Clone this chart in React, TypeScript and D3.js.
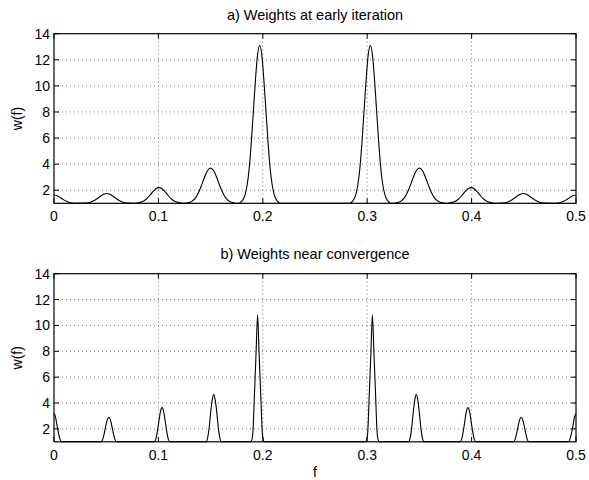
import React from 'react';
import * as d3 from 'd3';

const xTicks = [0, 0.1, 0.2, 0.3, 0.4, 0.5];
const yTicks = [2, 4, 6, 8, 10, 12, 14];
const xTickLabels = ['0', '0.1', '0.2', '0.3', '0.4', '0.5'];
const yTickLabels = ['2', '4', '6', '8', '10', '12', '14'];

const titleEarly = 'a) Weights at early iteration';
const titleConv = 'b) Weights near convergence';

// a) early iteration: frequency samples
const fEarly = [
  0, 0.003, 0.006, 0.009, 0.012, 0.015, 0.018, 0.021,
  0.0295, 0.0325, 0.0355, 0.0385, 0.0415, 0.0445, 0.0475, 0.0505, 0.0535, 0.0565, 0.0595, 0.0625, 0.0655, 0.0685, 0.0715,
  0.0755,
  0.0795, 0.0825, 0.0855, 0.0885, 0.0915, 0.0945, 0.0975, 0.1005, 0.1035, 0.1065, 0.1095, 0.1125, 0.1155, 0.1185, 0.1215,
  0.125, 0.129, 0.132, 0.135, 0.138, 0.141, 0.144, 0.147, 0.15, 0.153, 0.156, 0.159, 0.162, 0.165, 0.168, 0.171, 0.174,
  0.177, 0.179, 0.181, 0.183, 0.185, 0.187, 0.189, 0.191, 0.193, 0.195, 0.197, 0.199, 0.201, 0.203, 0.205, 0.207, 0.209, 0.211, 0.213, 0.215, 0.217,
  0.25,
  0.283, 0.285, 0.287, 0.289, 0.291, 0.293, 0.295, 0.297, 0.299, 0.301, 0.303, 0.305, 0.307, 0.309, 0.311, 0.313, 0.315, 0.317, 0.319, 0.321, 0.323,
  0.326, 0.329, 0.332, 0.335, 0.338, 0.341, 0.344, 0.347, 0.35, 0.353, 0.356, 0.359, 0.362, 0.365, 0.368, 0.371, 0.375,
  0.3785, 0.3815, 0.3845, 0.3875, 0.3905, 0.3935, 0.3965, 0.3995, 0.4025, 0.4055, 0.4085, 0.4115, 0.4145, 0.4175, 0.4205,
  0.4245,
  0.4285, 0.4315, 0.4345, 0.4375, 0.4405, 0.4435, 0.4465, 0.4495, 0.4525, 0.4555, 0.4585, 0.4615, 0.4645, 0.4675, 0.4705,
  0.479, 0.482, 0.485, 0.488, 0.491, 0.494, 0.497, 0.5,
];
const wEarly = [
  1.64, 1.58, 1.44, 1.28, 1.15, 1.06, 1.02, 1.0,
  1.01, 1.04, 1.1, 1.21, 1.37, 1.54, 1.69, 1.75, 1.69, 1.54, 1.37, 1.21, 1.1, 1.04, 1.01,
  1.0,
  1.02, 1.07, 1.16, 1.33, 1.58, 1.87, 2.11, 2.2, 2.11, 1.87, 1.58, 1.33, 1.16, 1.07, 1.02,
  1.0, 1.05, 1.15, 1.36, 1.75, 2.31, 2.96, 3.49, 3.7, 3.49, 2.96, 2.31, 1.75, 1.36, 1.15, 1.05, 1.0,
  1.0, 1.08, 1.27, 1.65, 2.4, 3.7, 5.7, 8.1, 10.5, 12.4, 13.1, 12.4, 10.5, 8.1, 5.7, 3.7, 2.4, 1.65, 1.27, 1.08, 1.0,
  1.0,
  1.0, 1.08, 1.27, 1.65, 2.4, 3.7, 5.7, 8.1, 10.5, 12.4, 13.1, 12.4, 10.5, 8.1, 5.7, 3.7, 2.4, 1.65, 1.27, 1.08, 1.0,
  1.0, 1.05, 1.15, 1.36, 1.75, 2.31, 2.96, 3.49, 3.7, 3.49, 2.96, 2.31, 1.75, 1.36, 1.15, 1.05, 1.0,
  1.02, 1.07, 1.16, 1.33, 1.58, 1.87, 2.11, 2.2, 2.11, 1.87, 1.58, 1.33, 1.16, 1.07, 1.02,
  1.0,
  1.01, 1.04, 1.1, 1.21, 1.37, 1.54, 1.69, 1.75, 1.69, 1.54, 1.37, 1.21, 1.1, 1.04, 1.01,
  1.0, 1.02, 1.06, 1.15, 1.28, 1.44, 1.58, 1.64,
];

// b) near convergence
const fConv = [
  0, 0.0015, 0.003, 0.0045, 0.006, 0.0075,
  0.045, 0.0465, 0.048, 0.0495, 0.051, 0.0525, 0.054, 0.0555, 0.057, 0.0585, 0.06,
  0.096, 0.0975, 0.099, 0.1005, 0.102, 0.1035, 0.105, 0.1065, 0.108, 0.1095, 0.111,
  0.1455, 0.147, 0.1485, 0.15, 0.1515, 0.153, 0.1545, 0.156, 0.1575, 0.159, 0.1605,
  0.1885, 0.1895, 0.1905, 0.192, 0.1935, 0.195, 0.1965, 0.198, 0.1995, 0.2005, 0.2015,
  0.25,
  0.2985, 0.2995, 0.3005, 0.302, 0.3035, 0.305, 0.3065, 0.308, 0.3095, 0.3105, 0.3115,
  0.3395, 0.341, 0.3425, 0.344, 0.3455, 0.347, 0.3485, 0.35, 0.3515, 0.353, 0.3545,
  0.389, 0.3905, 0.392, 0.3935, 0.395, 0.3965, 0.398, 0.3995, 0.401, 0.4025, 0.404,
  0.44, 0.4415, 0.443, 0.4445, 0.446, 0.4475, 0.449, 0.4505, 0.452, 0.4535, 0.455,
  0.4925, 0.494, 0.4955, 0.497, 0.4985, 0.5,
];
const wConv = [
  3.2, 2.9, 2.2, 1.6, 1.15, 1.0,
  1.0, 1.15, 1.6, 2.2, 2.7, 2.9, 2.7, 2.2, 1.6, 1.15, 1.0,
  1.0, 1.2, 1.8, 2.6, 3.35, 3.64, 3.35, 2.6, 1.8, 1.2, 1.0,
  1.0, 1.25, 2.0, 3.2, 4.2, 4.67, 4.2, 3.2, 2.0, 1.25, 1.0,
  1.0, 1.15, 1.7, 4.7, 7.75, 10.8, 7.75, 4.7, 1.7, 1.15, 1.0,
  1.0,
  1.0, 1.15, 1.7, 4.7, 7.75, 10.8, 7.75, 4.7, 1.7, 1.15, 1.0,
  1.0, 1.25, 2.0, 3.2, 4.2, 4.67, 4.2, 3.2, 2.0, 1.25, 1.0,
  1.0, 1.2, 1.8, 2.6, 3.35, 3.64, 3.35, 2.6, 1.8, 1.2, 1.0,
  1.0, 1.15, 1.6, 2.2, 2.7, 2.9, 2.7, 2.2, 1.6, 1.15, 1.0,
  1.0, 1.15, 1.6, 2.2, 2.9, 3.2,
];

const FONT = '"Liberation Sans", Arial, Helvetica, sans-serif';
const LEFT = 54;
const RIGHT = 576;

type PanelProps = {
  title: string;
  fs: number[];
  ws: number[];
  top: number;
  bottom: number;
  titleY: number;
  curveType: any;
};

function Panel({ title, fs, ws, top, bottom, titleY, curveType }: PanelProps) {
  const x = d3.scaleLinear().domain([0, 0.5]).range([LEFT, RIGHT]);
  const y = d3.scaleLinear().domain([1, 14]).range([bottom, top]);
  const pts = fs.map((f, i) => [f, ws[i]] as [number, number]);
  const line = d3
    .line<[number, number]>()
    .x((d) => x(d[0]))
    .y((d) => y(d[1]))
    .curve(curveType);
  const tl = 5;
  return (
    <g>
      <text x={(LEFT + RIGHT) / 2} y={titleY} textAnchor="middle" fontSize={14.5} fontFamily={FONT}>
        {title}
      </text>
      {/* grid */}
      {xTicks.slice(1, -1).map((t) => (
        <line key={'gx' + t} x1={x(t)} x2={x(t)} y1={top} y2={bottom} stroke="#555" strokeWidth={0.8} strokeDasharray="1 3" />
      ))}
      {yTicks.slice(0, -1).map((t) => (
        <line key={'gy' + t} x1={LEFT} x2={RIGHT} y1={y(t)} y2={y(t)} stroke="#555" strokeWidth={0.8} strokeDasharray="1 3" />
      ))}
      {/* curve */}
      <path d={line(pts) || ''} fill="none" stroke="#000" strokeWidth={1.1} />
      {/* box */}
      <rect x={LEFT} y={top} width={RIGHT - LEFT} height={bottom - top} fill="none" stroke="#000" strokeWidth={1.2} />
      {/* ticks */}
      {xTicks.map((t) => (
        <g key={'tx' + t}>
          <line x1={x(t)} x2={x(t)} y1={bottom} y2={bottom - tl} stroke="#000" />
          <line x1={x(t)} x2={x(t)} y1={top} y2={top + tl} stroke="#000" />
        </g>
      ))}
      {yTicks.map((t) => (
        <g key={'ty' + t}>
          <line x1={LEFT} x2={LEFT + tl} y1={y(t)} y2={y(t)} stroke="#000" />
          <line x1={RIGHT} x2={RIGHT - tl} y1={y(t)} y2={y(t)} stroke="#000" />
        </g>
      ))}
      {xTicks.map((t, i) => (
        <text key={'lx' + t} x={x(t)} y={bottom + 18} textAnchor="middle" fontSize={14} fontFamily={FONT}>
          {xTickLabels[i]}
        </text>
      ))}
      {yTicks.map((t, i) => (
        <text key={'ly' + t} x={LEFT - 4} y={y(t) + 5} textAnchor="end" fontSize={14} fontFamily={FONT}>
          {yTickLabels[i]}
        </text>
      ))}
      <text
        transform={`translate(22,${(top + bottom) / 2}) rotate(-90)`}
        textAnchor="middle"
        fontSize={14}
        fontFamily={FONT}
      >
        w(f)
      </text>
    </g>
  );
}

export default function App() {
  return (
    <svg width={589} height={480} style={{ position: 'absolute', left: 0, top: 0, background: '#fff' }}>
      <rect x={0} y={0} width={589} height={480} fill="#fff" />
      <Panel title={titleEarly} fs={fEarly} ws={wEarly} top={33.7} bottom={203.3} titleY={20} curveType={d3.curveMonotoneX} />
      <Panel title={titleConv} fs={fConv} ws={wConv} top={273.7} bottom={441.8} titleY={259} curveType={d3.curveMonotoneX} />
      <text x={(LEFT + RIGHT) / 2} y={477} textAnchor="middle" fontSize={14} fontFamily={FONT}>
        f
      </text>
    </svg>
  );
}
